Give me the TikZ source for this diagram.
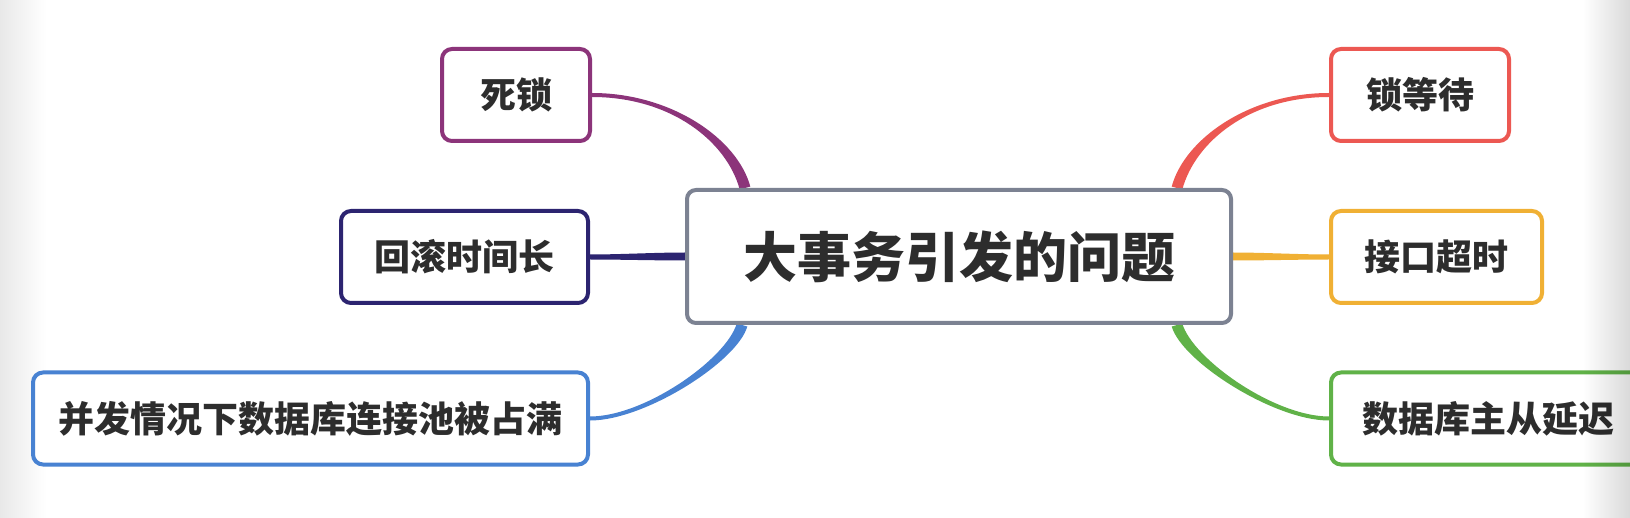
\documentclass[tikz,border=0pt]{standalone}
\usepackage{fontspec}
\setmainfont{Noto Sans CJK SC}
\usetikzlibrary{calc,backgrounds,fadings}
\definecolor{cPurple}{RGB}{140,52,122}
\definecolor{cNavy}{RGB}{44,36,112}
\definecolor{cBlue}{RGB}{72,130,210}
\definecolor{cRed}{RGB}{236,88,82}
\definecolor{cOrange}{RGB}{240,176,52}
\definecolor{cGreen}{RGB}{96,178,72}
\definecolor{cGray}{RGB}{124,130,146}
\definecolor{cText}{RGB}{45,45,45}
\newcommand{\mmbranch}[7]{%
  \coordinate (bA) at (#2);
  \coordinate (bD) at (#5);
  \coordinate (bB) at ($(bA)+(#3)$);
  \coordinate (bC) at ($(bD)+(#4)$);
  \coordinate (bA1) at ($(bA)!#6!90:(bB)$);
  \coordinate (bA2) at ($(bA)!#6!-90:(bB)$);
  \coordinate (bD1) at ($(bD)!#7!-90:(bC)$);
  \coordinate (bD2) at ($(bD)!#7!90:(bC)$);
  \fill[#1] (bA1) .. controls ($(bB)+(bA1)-(bA)$) and ($(bC)+(bD1)-(bD)$) .. (bD1)
     -- (bD2) .. controls ($(bC)+(bD2)-(bD)$) and ($(bB)+(bA2)-(bA)$) .. (bA2) -- cycle;
}
\begin{document}
\begin{tikzpicture}[x=1pt,y=-1pt,
  leaf/.style={draw=#1, line width=4pt, rounded corners=10pt, fill=white,
    minimum height=92pt, inner sep=0pt,
    font=\fontsize{36}{40}\selectfont\bfseries, text=cText},
  root/.style={draw=cGray, line width=4pt, rounded corners=9pt, fill=white,
    minimum width=544pt, minimum height=133pt, inner sep=0pt,
    font=\fontsize{54}{60}\selectfont\bfseries, text=cText}]
\useasboundingbox (0,0) rectangle (1630,518);
\clip (0,0) rectangle (1630,518);

\node[leaf=cPurple, minimum width=148pt] (sl) at (516,95) {死锁};
\node[leaf=cNavy, minimum width=247pt] (hg) at (464.5,257) {回滚时间长};
\node[leaf=cBlue, minimum width=555pt] (bf) at (310.5,418.5) {并发情况下数据库连接池被占满};
\node[root] (c) at (959,256.5) {大事务引发的问题};
\node[leaf=cRed, minimum width=178pt] (ld) at (1420,95) {锁等待};
\node[leaf=cOrange, minimum width=211pt] (jk) at (1436.5,257) {接口超时};
\node[leaf=cGreen, minimum width=314pt] (sj) at (1488,418.5) {数据库主从延迟};

\coordinate (cTL) at ($(c.north west)+(60,0)$);
\coordinate (cBL) at ($(c.south west)+(57,0)$);
\coordinate (cTR) at ($(c.north east)+(-56,0)$);
\coordinate (cBR) at ($(c.south east)+(-56,0)$);

\begin{scope}[on background layer]
  \fill[white] (0,0) rectangle (1630,518);
  \shade[left color=black!9, right color=white] (0,0) rectangle (46,518);
  \mmbranch{cPurple}{sl.east}{79,0}{-13,-48}{cTL}{2pt}{5.5pt}
  \mmbranch{cNavy}{hg.east}{30,0}{-30,0}{c.west}{2.5pt}{4pt}
  \mmbranch{cBlue}{bf.east}{55,0}{-10,35}{cBL}{2pt}{5.5pt}
  \mmbranch{cRed}{ld.west}{-79,0}{13,-48}{cTR}{2pt}{5.5pt}
  \mmbranch{cOrange}{jk.west}{-30,0}{30,0}{c.east}{2.5pt}{4pt}
  \mmbranch{cGreen}{sj.west}{-55,0}{10,35}{cBR}{2pt}{5.5pt}
\end{scope}

\fill[black, fill opacity=0.15, path fading=west] (1583,0) rectangle (1630,518);
\end{tikzpicture}
\end{document}
